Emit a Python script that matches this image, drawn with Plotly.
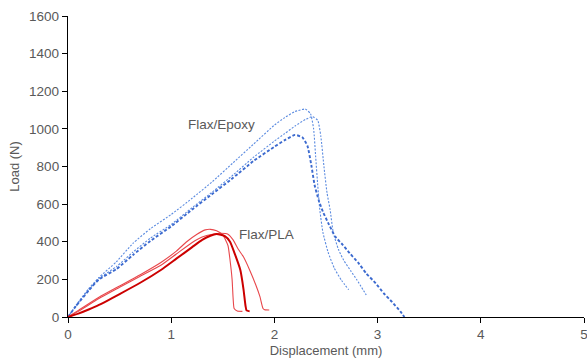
import plotly.graph_objects as go

# Flax/Epoxy specimens: displacement (mm) and load (N)
epoxy_a_x = [0, 0.08, 0.2, 0.3, 0.47, 0.63, 0.8, 1.0, 1.2, 1.4, 1.6, 1.8, 2.0, 2.1, 2.2, 2.3,
             2.35, 2.38, 2.40, 2.42, 2.44, 2.47, 2.52, 2.58, 2.65, 2.72]
epoxy_a_y = [0, 65, 150, 210, 294, 392, 470, 545, 630, 720, 820, 920, 1020, 1060, 1092, 1105,
             1080, 1000, 850, 700, 570, 450, 345, 260, 195, 145]

epoxy_b_x = [0, 0.08, 0.2, 0.3, 0.47, 0.63, 0.8, 1.0, 1.2, 1.4, 1.6, 1.8, 2.0, 2.1, 2.2, 2.3, 2.37,
             2.42, 2.45, 2.48, 2.51, 2.54, 2.57, 2.62, 2.67, 2.74, 2.80, 2.89]
epoxy_b_y = [0, 60, 145, 205, 268, 345, 420, 492, 580, 665, 755, 850, 935, 975, 1015, 1050, 1065,
             1045, 960, 800, 660, 570, 450, 360, 303, 245, 197, 117]

epoxy_c_x = [0, 0.08, 0.2, 0.3, 0.47, 0.63, 0.8, 1.0, 1.2, 1.4, 1.6, 1.8, 2.0, 2.1, 2.2,
             2.27, 2.32, 2.36, 2.39, 2.43, 2.47, 2.53, 2.59, 2.66, 2.73, 2.81, 2.89, 2.98, 3.06, 3.14, 3.22, 3.26]
epoxy_c_y = [0, 60, 140, 200, 255, 330, 405, 482, 570, 655, 740, 830, 905, 940, 968,
             955, 910, 800, 700, 620, 560, 490, 427, 385, 339, 290, 232, 180, 126, 80, 30, 0]

# Flax/PLA specimens
pla_a_x = [0, 0.1, 0.2, 0.3, 0.5, 0.7, 0.9, 1.05, 1.2, 1.3, 1.38, 1.44, 1.52, 1.57, 1.62, 1.67,
           1.70, 1.72, 1.73, 1.76]
pla_a_y = [0, 18, 40, 64, 122, 182, 250, 310, 370, 410, 432, 441, 430, 400, 330, 250,
           150, 60, 35, 30]

pla_b_x = [0, 0.1, 0.3, 0.5, 0.7, 0.9, 1.05, 1.15, 1.25, 1.33, 1.38, 1.44, 1.50, 1.55, 1.57, 1.59,
           1.60, 1.61, 1.64, 1.69]
pla_b_y = [0, 35, 105, 165, 225, 290, 350, 400, 440, 463, 466, 458, 436, 380, 303, 200,
           100, 45, 32, 30]

pla_c_x = [0, 0.1, 0.3, 0.5, 0.7, 0.9, 1.05, 1.2, 1.3, 1.4, 1.48, 1.55, 1.60, 1.65, 1.70,
           1.76, 1.82, 1.86, 1.89, 1.91, 1.95]
pla_c_y = [0, 30, 98, 158, 217, 275, 335, 395, 425, 440, 445, 440, 410, 360, 320,
           250, 170, 108, 45, 38, 37]

x_ticks = [0, 1, 2, 3, 4, 5]
y_ticks = [0, 200, 400, 600, 800, 1000, 1200, 1400, 1600]

grey = "#595959"
font_family = "Liberation Sans, Arial"
fig = go.Figure()

blue_thin = dict(color="#5B8BE0", width=1.1, dash="2px,1.5px")
blue_bold = dict(color="#3C6ACF", width=1.9, dash="3px,2px")
red_thin = dict(color="#E8474B", width=1.1)
red_bold = dict(color="#CC0000", width=2)

for xs, ys, ln in [
    (epoxy_a_x, epoxy_a_y, blue_thin),
    (epoxy_b_x, epoxy_b_y, blue_thin),
    (epoxy_c_x, epoxy_c_y, blue_bold),
    (pla_b_x, pla_b_y, red_thin),
    (pla_c_x, pla_c_y, red_thin),
    (pla_a_x, pla_a_y, red_bold),
]:
    fig.add_trace(go.Scatter(x=xs, y=ys, mode="lines",
                             line=dict(shape="spline", smoothing=0.5, **ln),
                             showlegend=False, hoverinfo="skip"))

fig.add_annotation(x=1.485, y=1021, text="Flax/Epoxy", showarrow=False,
                   font=dict(family=font_family, size=13.5, color=grey))
fig.add_annotation(x=1.925, y=436, text="Flax/PLA", showarrow=False,
                   font=dict(family=font_family, size=13.5, color=grey))

axis_common = dict(showgrid=False, zeroline=False, showline=True, linecolor="#000000",
                   linewidth=1.3, ticks="outside", ticklen=5, tickcolor="#000000",
                   ticklabeloverflow="allow", automargin=False,
                   tickfont=dict(family=font_family, size=13.5, color=grey))

fig.update_xaxes(range=[0, 5], tickvals=x_ticks,
                 title=dict(text="Displacement (mm)", standoff=4,
                            font=dict(family=font_family, size=13, color=grey)),
                 **axis_common)
fig.update_yaxes(range=[0, 1600], tickvals=y_ticks,
                 title=dict(text="Load (N)", standoff=6,
                            font=dict(family=font_family, size=13, color=grey)),
                 **axis_common)

fig.update_layout(width=587, height=361, margin=dict(l=68, r=3, t=16, b=44),
                  plot_bgcolor="white", paper_bgcolor="white")

fig.write_html("out.html")
